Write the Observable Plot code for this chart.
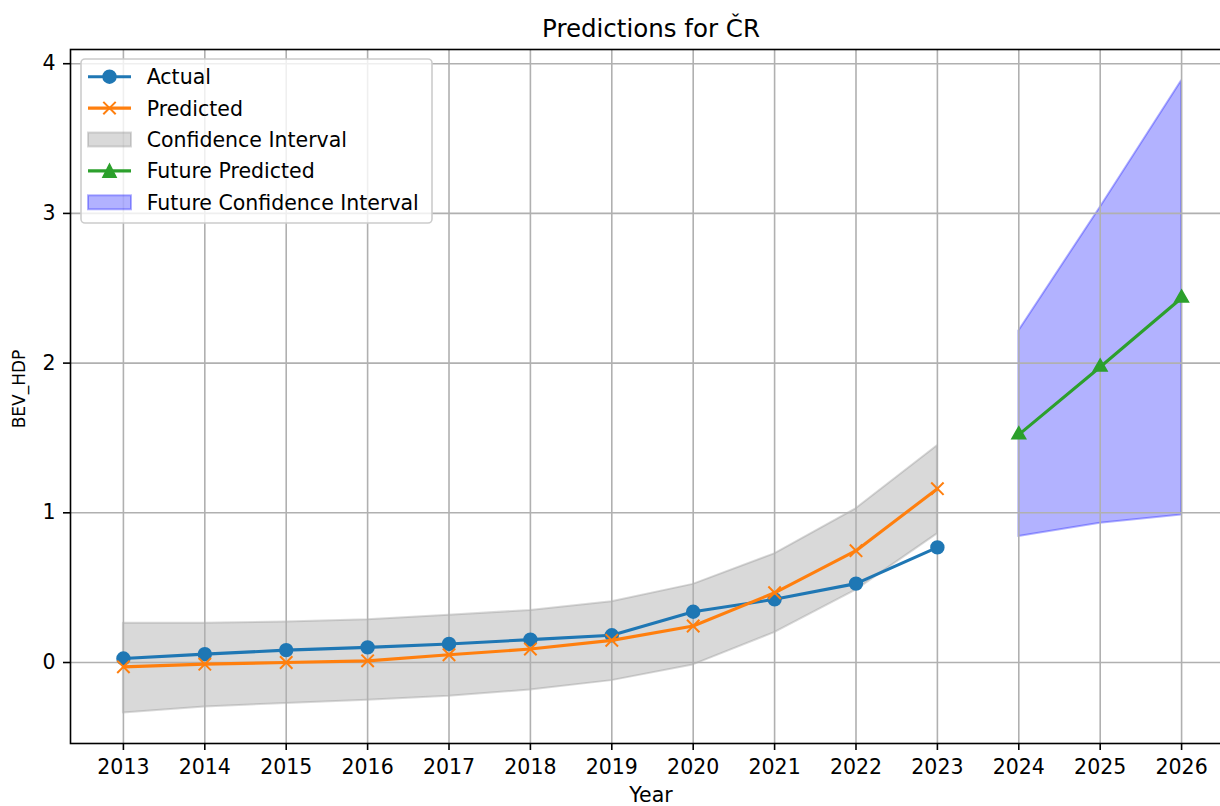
<!DOCTYPE html>
<html><head><meta charset="utf-8">
<script src="https://cdn.jsdelivr.net/npm/d3@7"></script>
<script src="https://cdn.jsdelivr.net/npm/@observablehq/plot@0.6"></script>
<style>
html,body{margin:0;padding:0;background:#fff;overflow:hidden;}
#wrap{position:relative;width:1220px;height:806px;overflow:hidden;background:#fff;}
#chart{position:absolute;left:0;top:0;width:1240px;}
#chart svg{max-width:none !important;}
#overlay{position:absolute;left:0;top:0;}
#overlay text{font-family:"DejaVu Sans",sans-serif;fill:#000;}
</style></head><body>
<div id="wrap"><div id="chart"></div><svg id="overlay" width="1220" height="806"></svg></div>
<script>
// ---- data ----
const years = [2013, 2014, 2015, 2016, 2017, 2018, 2019, 2020, 2021, 2022, 2023];
const actual = [0.027, 0.056, 0.083, 0.101, 0.124, 0.153, 0.182, 0.339, 0.422, 0.527, 0.769];
const predicted = [-0.029, -0.011, 0.0, 0.011, 0.052, 0.090, 0.148, 0.244, 0.466, 0.747, 1.161];
const ciLower = [-0.337, -0.297, -0.274, -0.252, -0.225, -0.184, -0.121, -0.016, 0.200, 0.484, 0.859];
const ciUpper = [0.263, 0.263, 0.270, 0.285, 0.315, 0.348, 0.406, 0.522, 0.726, 1.027, 1.448];
const futureYears = [2024, 2025, 2026];
const futurePredicted = [1.522, 1.974, 2.435];
const futureLower = [0.842, 0.930, 0.985];
const futureUpper = [2.215, 3.040, 3.886];
const yTicks = [0, 1, 2, 3, 4];
const title = "Predictions for ČR";
const xLabel = "Year";
const yLabel = "BEV_HDP";
const legendLabels = ["Actual", "Predicted", "Confidence Interval", "Future Predicted", "Future Confidence Interval"];

const hist = years.map((year, i) => ({year, actual: actual[i], predicted: predicted[i], lo: ciLower[i], hi: ciUpper[i]}));
const fut = futureYears.map((year, i) => ({year, pred: futurePredicted[i], lo: futureLower[i], hi: futureUpper[i]}));
const allYears = years.concat(futureYears);

const C_ACT = "#1f77b4", C_PRED = "#ff7f0e", C_FUT = "#2ca02c";
const GRID = "#b0b0b0";

const chart = Plot.plot({
  width: 1240, height: 806,
  marginLeft: 70, marginRight: 6, marginTop: 49, marginBottom: 63,
  style: {fontFamily: "DejaVu Sans", fontSize: "20.5px", background: "white", color: "black", maxWidth: "none"},
  x: {domain: [2012.35, 2026.65]},
  y: {domain: [-0.541, 4.095]},
  marks: [
    Plot.areaY(hist, {x: "year", y1: "lo", y2: "hi", fill: "gray", fillOpacity: 0.3, stroke: "gray", strokeOpacity: 0.3, strokeWidth: 2}),
    Plot.areaY(fut, {x: "year", y1: "lo", y2: "hi", fill: "blue", fillOpacity: 0.3, stroke: "blue", strokeOpacity: 0.3, strokeWidth: 2}),
    Plot.gridX(allYears, {stroke: GRID, strokeOpacity: 1, strokeWidth: 1.6}),
    Plot.gridY(yTicks, {stroke: GRID, strokeOpacity: 1, strokeWidth: 1.6}),
    Plot.line(hist, {x: "year", y: "actual", stroke: C_ACT, strokeWidth: 3.1}),
    Plot.dot(hist, {x: "year", y: "actual", r: 6.2, fill: C_ACT, stroke: C_ACT, strokeWidth: 2}),
    Plot.line(hist, {x: "year", y: "predicted", stroke: C_PRED, strokeWidth: 3.1}),
    Plot.dot(hist, {x: "year", y: "predicted", symbol: "times", r: 5.7, stroke: C_PRED, strokeWidth: 2}),
    Plot.line(fut, {x: "year", y: "pred", stroke: C_FUT, strokeWidth: 3.1}),
    Plot.dot(fut, {x: "year", y: "pred", symbol: "triangle", r: 4.8, fill: C_FUT, stroke: C_FUT, strokeWidth: 2}),
    Plot.frame({stroke: "black", strokeWidth: 1.6}),
    Plot.axisX(allYears, {tickSize: 7, tickPadding: 9, tickFormat: d => String(d), label: null, strokeWidth: 1.6}),
    Plot.axisY(yTicks, {tickSize: 7, tickPadding: 8, tickFormat: d => String(d), label: null, strokeWidth: 1.6})
  ]
});
document.getElementById("chart").appendChild(chart);

// ---- title, axis labels, legend ----
const ov = d3.select("#overlay");
ov.append("text").attr("x", 651).attr("y", 36.7).attr("text-anchor", "middle").attr("font-size", 24.5).text(title);
ov.append("text").attr("x", 651).attr("y", 802).attr("text-anchor", "middle").attr("font-size", 20.5).text(xLabel);
ov.append("text").attr("transform", "translate(25,389) rotate(-90)").attr("text-anchor", "middle").attr("font-size", 17).text(yLabel);

const lg = ov.append("g");
lg.append("rect").attr("x", 81).attr("y", 59).attr("width", 351).attr("height", 164).attr("rx", 4)
  .attr("fill", "white").attr("fill-opacity", 0.8).attr("stroke", "#cccccc").attr("stroke-width", 1.6);
const rowY = i => 76.7 + i * 31.4;
const hx0 = 88, hx1 = 131, hxc = 109.5;
// Actual
lg.append("line").attr("x1", hx0).attr("x2", hx1).attr("y1", rowY(0)).attr("y2", rowY(0)).attr("stroke", C_ACT).attr("stroke-width", 3.1);
lg.append("circle").attr("cx", hxc).attr("cy", rowY(0)).attr("r", 6.2).attr("fill", C_ACT).attr("stroke", C_ACT).attr("stroke-width", 2);
// Predicted
lg.append("line").attr("x1", hx0).attr("x2", hx1).attr("y1", rowY(1)).attr("y2", rowY(1)).attr("stroke", C_PRED).attr("stroke-width", 3.1);
lg.append("path").attr("d", `M${hxc-6.2},${rowY(1)-6.2}L${hxc+6.2},${rowY(1)+6.2}M${hxc-6.2},${rowY(1)+6.2}L${hxc+6.2},${rowY(1)-6.2}`)
  .attr("stroke", C_PRED).attr("stroke-width", 2).attr("fill", "none");
// CI
lg.append("rect").attr("x", hx0).attr("y", rowY(2) - 7).attr("width", hx1 - hx0).attr("height", 14)
  .attr("fill", "gray").attr("fill-opacity", 0.3).attr("stroke", "gray").attr("stroke-opacity", 0.3).attr("stroke-width", 2);
// Future predicted
lg.append("line").attr("x1", hx0).attr("x2", hx1).attr("y1", rowY(3)).attr("y2", rowY(3)).attr("stroke", C_FUT).attr("stroke-width", 3.1);
lg.append("path").attr("d", `M${hxc},${rowY(3)-6.2}L${hxc-6.2},${rowY(3)+6.2}L${hxc+6.2},${rowY(3)+6.2}Z`)
  .attr("fill", C_FUT).attr("stroke", C_FUT).attr("stroke-width", 2).attr("stroke-linejoin", "miter");
// Future CI
lg.append("rect").attr("x", hx0).attr("y", rowY(4) - 7).attr("width", hx1 - hx0).attr("height", 14)
  .attr("fill", "blue").attr("fill-opacity", 0.3).attr("stroke", "blue").attr("stroke-opacity", 0.3).attr("stroke-width", 2);
legendLabels.forEach((t, i) => {
  lg.append("text").attr("x", 146.7).attr("y", rowY(i) + 7.5).attr("font-size", 20.5).text(t);
});
</script>
</body></html>
